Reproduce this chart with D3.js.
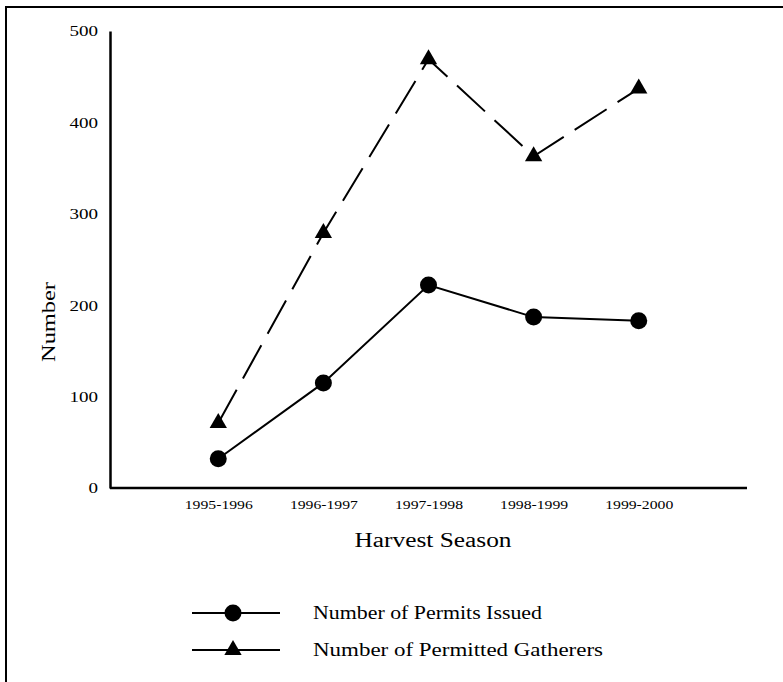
<!DOCTYPE html>
<html>
<head>
<meta charset="utf-8">
<script src="https://cdn.jsdelivr.net/npm/d3@7/dist/d3.min.js"></script>
<style>
  html, body { margin: 0; padding: 0; background: #fff; }
  svg { display: block; }
  text { font-family: "Liberation Serif", "Times New Roman", serif; fill: #000; }
</style>
</head>
<body>
<svg id="chart" width="783" height="682"></svg>
<script>
const seasons = ["1995-1996", "1996-1997", "1997-1998", "1998-1999", "1999-2000"];
const permitsIssued = [32, 115, 222, 187, 183];
const permittedGatherers = [71, 279, 469, 363, 437];
const yTicks = [0, 100, 200, 300, 400, 500];
const seriesNames = ["Number of Permits Issued", "Number of Permitted Gatherers"];

const svg = d3.select("#chart");

// outer frame (top and left edges of the scanned figure box)
svg.append("line").attr("x1", 5).attr("x2", 783).attr("y1", 7).attr("y2", 7)
  .attr("stroke", "#000").attr("stroke-width", 2);
svg.append("line").attr("x1", 6).attr("x2", 6).attr("y1", 6).attr("y2", 682)
  .attr("stroke", "#000").attr("stroke-width", 2);

const x = d3.scalePoint().domain(seasons).range([110, 747]).padding(1.03);
const y = d3.scaleLinear().domain([0, 500]).range([488, 31]);

// y axis
const yAxis = svg.append("g").attr("transform", "translate(110,0)")
  .call(d3.axisLeft(y).tickValues(yTicks).tickSize(0).tickPadding(12).tickFormat(d3.format("d")));
yAxis.select(".domain").attr("stroke", "#000").attr("stroke-width", 2.5);
yAxis.selectAll("text").attr("font-size", 14).attr("font-family", "Liberation Serif")
  .attr("dy", "0.35em")
  .each(function(d){ const s = String(d); d3.select(this).attr("textLength", s.length * 9.5).attr("lengthAdjust", "spacingAndGlyphs"); });

// x axis
const xAxis = svg.append("g").attr("transform", "translate(0,488)")
  .call(d3.axisBottom(x).tickSize(0).tickPadding(12).tickSizeOuter(0));
xAxis.select(".domain").attr("stroke", "#000").attr("stroke-width", 2.5)
  .attr("d", "M110,0H747");
xAxis.selectAll("text").attr("font-size", 12).attr("font-family", "Liberation Serif")
  .attr("textLength", 68).attr("lengthAdjust", "spacingAndGlyphs");

// axis titles
svg.append("text").attr("x", 433).attr("y", 547).attr("text-anchor", "middle")
  .attr("font-size", 20).attr("textLength", 157).attr("lengthAdjust", "spacingAndGlyphs")
  .text("Harvest Season");
svg.append("text").attr("transform", "translate(55,322) rotate(-90)").attr("text-anchor", "middle")
  .attr("font-size", 19).attr("textLength", 80).attr("lengthAdjust", "spacingAndGlyphs")
  .text("Number");

const line = d3.line().x((d, i) => x(seasons[i])).y(d => y(d));

// gatherers: dashed line with triangles
svg.append("path").datum(permittedGatherers).attr("d", line)
  .attr("fill", "none").attr("stroke", "#000").attr("stroke-width", 2)
  .attr("stroke-dasharray", "38,13");
svg.append("g").selectAll("path").data(permittedGatherers).join("path")
  .attr("transform", (d, i) => `translate(${x(seasons[i])},${y(d)})`)
  .attr("d", d3.symbol(d3.symbolTriangle, 130))
  .attr("fill", "#000");

// permits: solid line with circles
svg.append("path").datum(permitsIssued).attr("d", line)
  .attr("fill", "none").attr("stroke", "#000").attr("stroke-width", 2);
svg.append("g").selectAll("circle").data(permitsIssued).join("circle")
  .attr("cx", (d, i) => x(seasons[i])).attr("cy", d => y(d)).attr("r", 8.5)
  .attr("fill", "#000");

// legend
const legendY = [613, 650];
const legendW = [229, 290];
const lg = svg.append("g");
seriesNames.forEach((name, i) => {
  const yy = legendY[i];
  lg.append("line").attr("x1", 192).attr("x2", 280).attr("y1", yy).attr("y2", yy)
    .attr("stroke", "#000").attr("stroke-width", 2);
  if (i === 0) {
    lg.append("circle").attr("cx", 233).attr("cy", yy).attr("r", 8.5).attr("fill", "#000");
  } else {
    lg.append("path").attr("transform", `translate(233,${yy})`)
      .attr("d", d3.symbol(d3.symbolTriangle, 130)).attr("fill", "#000");
  }
  lg.append("text").attr("x", 313).attr("y", yy + 6).attr("font-size", 18)
    .attr("textLength", legendW[i]).attr("lengthAdjust", "spacingAndGlyphs")
    .text(name);
});
</script>
</body>
</html>
